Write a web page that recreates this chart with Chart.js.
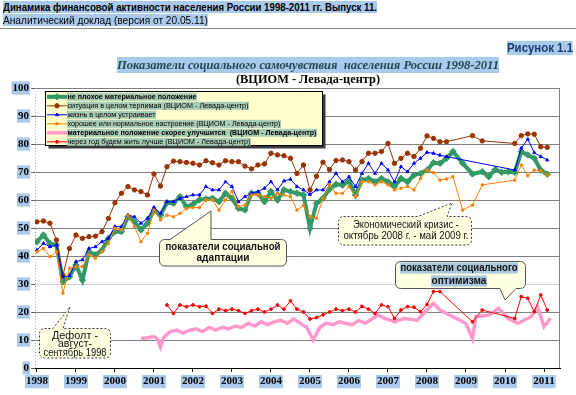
<!DOCTYPE html>
<html><head><meta charset="utf-8">
<script src="https://cdn.jsdelivr.net/npm/chart.js"></script>
<style>
body{margin:0;background:#fff;}
#wrap{position:relative;width:576px;height:395px;overflow:hidden;background:#fff;}
#c{position:absolute;left:0;top:0;}
.t{position:absolute;white-space:pre;transform-origin:0 0;line-height:1.1;}
.hl{background:#a9caec;}
</style></head><body>
<div id="wrap">
<canvas id="c" width="576" height="395"></canvas>
<div class="t hl" style="top:1px;font:bold 11px 'Liberation Sans';color:#000" data-x="3" data-w="374">Динамика финансовой активности населения России 1998-2011 гг. Выпуск 11.</div>
<div class="t hl" style="top:14px;font:11px 'Liberation Sans';color:#000" data-x="3" data-w="205">Аналитический доклад (версия от 20.05.11)</div>
<div style="position:absolute;left:0;top:28px;width:576px;height:1px;background:#8a8a8a"></div>
<div class="t hl" style="top:41px;font:bold 12px 'Liberation Sans';color:#1f3a6e" data-x="507" data-w="66">Рисунок 1.1</div>
<div class="t hl" style="top:57px;font:italic bold 13px 'Liberation Serif';color:#1e4652" data-x="117" data-w="382">Показатели социального самочувствия  населения России 1998-2011</div>
<div class="t" style="top:71px;font:bold 13px 'Liberation Serif';color:#000" data-x="236" data-w="144">(ВЦИОМ - Левада-центр)</div>
</div>
<script>
// ---------- data ----------
const yearTicks = [1998,1999,2000,2001,2002,2003,2004,2005,2006,2007,2008,2009,2010,2011];

const surveyDates = [
 '1998-01','1998-03','1998-05','1998-07','1998-09','1998-11',
 '1999-01','1999-03','1999-05','1999-07','1999-09','1999-11',
 '2000-01','2000-03','2000-05','2000-07','2000-09','2000-11',
 '2001-01','2001-03','2001-05','2001-07','2001-09','2001-11',
 '2002-01','2002-03','2002-05','2002-07','2002-09','2002-11',
 '2003-01','2003-03','2003-05','2003-07','2003-09','2003-11',
 '2004-01','2004-03','2004-05','2004-07','2004-09','2004-11',
 '2005-01','2005-03','2005-05','2005-07','2005-09','2005-11',
 '2006-01','2006-03','2006-05','2006-07','2006-09','2006-11',
 '2007-01','2007-03','2007-05','2007-07','2007-09','2007-11',
 '2008-01','2008-03','2008-05','2008-07'];

const greenLateDates  = ['2008-09','2008-12','2009-03','2009-06','2009-08','2009-10','2009-12','2010-02','2010-04','2010-06','2010-08','2010-10','2010-12','2011-02'];
const brownLateDates  = ['2009-03','2009-06','2010-04','2010-06','2010-08','2010-10','2010-12','2011-02'];
const blueLateDates   = ['2010-04','2010-06','2010-08','2010-10','2010-12','2011-02'];
const orangeLateDates = ['2008-09','2008-12','2009-03','2009-06','2010-04','2010-06','2010-08','2010-10','2010-12','2011-02'];

// не плохое материальное положение
const greenValues = [
 45.1,47.5,44.5,43.9,30.8,32.6, 36.8,31.4,41.5,40.4,42.1,46.3,
 48.7,48.7,54.0,52.3,49.3,51.7, 56.4,54.6,59.0,58.8,61.2,57.6,
 58.5,60.1,60.4,60.6,59.4,62.4, 60.6,57.0,56.4,62.4,62.4,59.4,
 63.0,60.0,63.6,63.0,62.4,61.8, 49.9,58.8,60.6,63.9,65.6,65.3,
 66.8,61.8,67.1,67.7,66.5,67.7, 66.5,64.8,67.7,66.5,68.9,69.5,
 70.7,73.3,73.1,74.9,
 77.3,73.1,69.3,70.1,68.3,70.9,69.9,70.1,69.9,77.3,76.1,74.9,70.7,69.2];

// ситуация в целом терпимая
const brownValues = [
 52.2,52.5,51.7,45.7,33.2,42.7, 47.5,46.3,46.9,47.1,48.7,53.4,
 59.0,62.4,64.8,63.6,63.0,61.8, 69.3,65.0,71.9,73.9,73.7,73.4,
 73.1,72.5,74.0,73.3,72.5,74.0, 73.7,73.7,72.1,71.1,72.5,72.9,
 76.7,76.1,75.8,74.9,69.5,72.5, 63.6,68.5,73.5,70.9,74.1,74.3,
 73.7,70.7,73.7,76.7,76.7,77.3, 80.2,73.1,74.9,76.7,75.5,78.5,
 82.9,82.0,80.8,80.8,
 83.0,81.1,80.2,83.0,83.6,83.5,79.0,78.8];

// жизнь в целом устраивает
const blueValues = [
 42.1,44.5,43.3,43.9,32.6,32.9, 38.0,38.6,42.7,43.3,45.1,46.3,
 50.5,50.5,54.6,54.0,51.7,53.5, 57.4,55.2,59.4,59.4,60.6,61.2,
 61.8,61.8,64.8,63.6,63.6,66.5, 64.8,59.4,61.2,62.4,63.0,64.2,
 66.5,63.6,66.8,67.4,64.8,63.6, 62.0,63.6,63.6,66.5,69.5,66.5,
 68.3,64.8,69.5,73.1,69.5,73.1, 70.7,66.5,71.9,70.1,73.1,74.9,
 77.0,76.7,76.0,75.5,
 70.7,78.5,81.7,76.9,75.5,74.3];

// хорошее или нормальное настроение
const orangeValues = [
 41.5,42.7,39.8,41.5,26.7,35.6, 36.2,36.2,40.4,39.2,41.5,44.5,
 49.9,49.3,54.6,50.5,45.1,48.1, 56.4,52.9,54.6,54.0,55.2,57.0,
 57.3,57.3,60.0,60.0,56.4,60.0, 63.0,57.6,58.2,61.8,61.8,61.2,
 60.6,62.4,61.8,61.2,56.4,58.0, 54.0,53.5,60.5,65.4,62.4,62.4,
 64.8,61.2,66.5,66.5,65.4,66.5, 65.4,63.6,64.2,64.8,63.6,67.7,
 70.7,69.8,67.1,67.5,
 68.3,56.4,58.2,65.4,67.1,72.5,68.7,70.7,70.5,68.9];

// материальное положение скорее улучшится
const pinkDates = ['2000-09','2000-11','2001-01','2001-02','2001-03','2001-04','2001-06','2001-08','2001-10','2001-12',
 '2002-02','2002-04','2002-06','2002-08','2002-10','2002-12','2003-02','2003-04','2003-06','2003-08','2003-10','2003-12',
 '2004-02','2004-04','2004-06','2004-08','2004-10','2004-12','2005-02','2005-04','2005-06','2005-08','2005-10','2005-12',
 '2006-02','2006-04','2006-06','2006-08','2006-10','2006-12','2007-03','2007-06','2007-10','2008-01','2008-03','2008-05',
 '2008-10','2009-01','2009-03','2009-04','2009-08','2009-11','2010-02','2010-05','2010-09','2010-11','2011-01','2011-03'];
const pinkValues = [10.5,10.8,11.2,10.5,7.5,11.0,13.0,13.5,12.5,13.5,
 14.0,13.0,14.5,13.5,14.5,14.0,15.0,14.5,16.0,15.0,16.5,15.5,
 16.5,17.0,16.0,17.5,16.0,14.5,10.0,14.5,16.0,15.5,16.5,16.0,
 15.5,17.0,16.0,17.5,18.9,17.7,16.5,17.7,17.1,20.7,23.1,20.7,
 17.7,15.9,10.5,18.3,18.9,21.3,17.7,16.0,18.3,21.9,14.8,17.7];

// через год будем жить лучше
const redDates = ['2001-05','2001-07','2001-09','2001-11',
 '2002-01','2002-03','2002-05','2002-07','2002-09','2002-11',
 '2003-01','2003-03','2003-05','2003-07','2003-09','2003-11',
 '2004-01','2004-03','2004-05','2004-07','2004-09','2004-11',
 '2005-01','2005-03','2005-05','2005-07','2005-09','2005-11',
 '2006-01','2006-03','2006-05','2006-07','2006-09','2006-11',
 '2007-01','2007-03','2007-05','2007-07','2007-09','2007-11',
 '2008-01','2008-03','2008-05',
 '2009-03','2009-06','2010-04','2010-06','2010-08','2010-10','2010-12','2011-02'];
const redValues = [22.5,19.5,22.5,21.9,
 22.5,21.9,22.1,19.5,21.0,20.5, 21.0,20.5,19.5,20.5,21.0,20.0,
 21.0,22.5,21.0,24.0,21.0,20.0, 17.5,18.0,19.0,20.0,21.0,20.5,
 21.0,20.0,22.0,21.0,19.5,22.5, 21.9,17.7,20.7,21.9,21.7,20.1,
 22.7,27.3,27.3,
 16.5,20.7,17.7,25.5,24.9,20.1,26.1,20.7];

const seriesNames = [
 'не плохое материальное положение',
 'ситуация в целом терпимая (ВЦИОМ - Левада-центр)',
 'жизнь в целом устраивает',
 'хорошее или нормальное настроение (ВЦИОМ - Левада-центр)',
 'материальное положение скорее улучшится  (ВЦИОМ - Левада-центр)',
 'через год будем жить лучше (ВЦИОМ - Левада-центр)'];

// ---------- helpers ----------
const toX = s => +s.slice(0,4) + (+s.slice(5,7) - 1) / 12;
const pts = (dates, vals) => dates.map((d, i) => ({x: toX(d), y: vals[i]}));

document.querySelectorAll('[data-w]').forEach(el => {
  const w = el.getBoundingClientRect().width;
  el.style.left = el.dataset.x + 'px';
  el.style.transform = 'scaleX(' + (el.dataset.w / w) + ')';
});

function fitText(ctx, text, x, y, w, font, color, bg, align) {
  ctx.save();
  ctx.font = font;
  const m = ctx.measureText(text).width;
  const sx = w ? w / m : 1;
  const ww = m * sx;
  let left = x;
  if (align === 'center') left = x - ww / 2;
  if (align === 'right') left = x - ww;
  if (bg) { ctx.fillStyle = bg.c; ctx.fillRect(left - 0.5, y - bg.h / 2, ww + 1, bg.h); }
  ctx.translate(left, y);
  ctx.scale(sx, 1);
  ctx.fillStyle = color;
  ctx.textBaseline = 'middle';
  ctx.textAlign = 'left';
  ctx.fillText(text, 0, 0.5);
  ctx.restore();
}

function callout(ctx, o) {
  const {x, y, w, h, r} = o;
  ctx.save();
  ctx.beginPath();
  ctx.moveTo(x + r, y);
  if (o.side === 'top') { ctx.lineTo(o.b1, y); ctx.lineTo(o.tx, o.ty); ctx.lineTo(o.b2, y); }
  ctx.lineTo(x + w - r, y); ctx.arcTo(x + w, y, x + w, y + r, r);
  ctx.lineTo(x + w, y + h - r); ctx.arcTo(x + w, y + h, x + w - r, y + h, r);
  if (o.side === 'bottom') { ctx.lineTo(o.b2, y + h); ctx.lineTo(o.tx, o.ty); ctx.lineTo(o.b1, y + h); }
  ctx.lineTo(x + r, y + h); ctx.arcTo(x, y + h, x, y + h - r, r);
  ctx.lineTo(x, y + r); ctx.arcTo(x, y, x + r, y, r);
  ctx.closePath();
  ctx.fillStyle = '#ffffe1';
  ctx.fill();
  ctx.setLineDash(o.dash || []);
  ctx.strokeStyle = o.stroke || '#444';
  ctx.lineWidth = 1;
  ctx.stroke();
  ctx.restore();
  o.lines.forEach(L => fitText(ctx, L.t, o.cx, L.y, L.w, o.font, '#111', o.bg ? {h: 11, c: o.bg} : null, 'center'));
}

const HL_LEG = '#a8cdb6';

const overlay = {
  id: 'overlay',
  beforeDatasetsDraw(chart) {
    const {ctx, chartArea: a} = chart;
    ctx.save();
    ctx.lineWidth = 1;
    ctx.strokeStyle = '#a8a8a8';
    ctx.setLineDash([1, 2]);
    ctx.beginPath(); ctx.moveTo(a.left + 0.5, a.top); ctx.lineTo(a.left + 0.5, a.bottom); ctx.stroke();
    ctx.setLineDash([]);
    ctx.strokeStyle = '#808080';
    ctx.beginPath(); ctx.moveTo(a.right - 0.5, a.top); ctx.lineTo(a.right - 0.5, a.bottom); ctx.stroke();
    ctx.restore();
  },
  afterDatasetsDraw(chart) {
    const ctx = chart.ctx;
    const f = 'px "Liberation Sans", Arial, sans-serif';
    callout(ctx, {x: 39.5, y: 328.5, w: 71, h: 29.5, r: 5, side: 'top', b1: 53, b2: 63, tx: 70, ty: 307,
      dash: [2, 2], stroke: '#333', cx: 75, font: '10' + f,
      lines: [{t: 'Дефолт -', y: 335.5, w: 46}, {t: 'август-', y: 344, w: 34}, {t: 'сентябрь 1998', y: 352.5, w: 63}]});
    callout(ctx, {x: 159.5, y: 239.5, w: 127, h: 26.5, r: 5, side: 'top', b1: 170, b2: 211, tx: 211, ty: 211,
      stroke: '#555', cx: 223, font: 'bold 10' + f,
      lines: [{t: 'показатели социальной', y: 246.5, w: 115}, {t: 'адаптации', y: 257.5, w: 53}]});
    callout(ctx, {x: 338.5, y: 216.5, w: 133, h: 28.5, r: 5, side: 'top', b1: 418, b2: 447, tx: 452, ty: 203,
      dash: [2, 2], stroke: '#333', cx: 406, font: '10' + f,
      lines: [{t: 'Экономический кризис -', y: 224.5, w: 106}, {t: 'октябрь 2008 г. - май 2009 г.', y: 235.5, w: 125}]});
    callout(ctx, {x: 395.5, y: 261.5, w: 130, h: 27, r: 5, side: 'bottom', b1: 500, b2: 516, tx: 505, ty: 300,
      stroke: '#555', cx: 459, font: 'bold 10' + f, bg: '#a8c8de',
      lines: [{t: 'показатели социального', y: 268, w: 117}, {t: 'оптимизма', y: 281, w: 55}]});

    // legend
    const L = {x: 45.5, y: 91.5, w: 277, h: 54};
    ctx.save();
    ctx.fillStyle = '#3a3a3a';
    ctx.fillRect(L.x + 3, L.y + 3, L.w, L.h);
    ctx.fillStyle = '#ffffcc';
    ctx.fillRect(L.x, L.y, L.w, L.h);
    ctx.strokeStyle = '#000'; ctx.lineWidth = 1;
    ctx.strokeRect(L.x, L.y, L.w, L.h);
    ctx.restore();
    const widths = [129, 181, 88, 213, 249, 183];
    const bold = [true, false, false, false, true, false];
    chart.data.datasets.forEach((ds, i) => {
      const yy = 96.8 + i * 9;
      ctx.save();
      ctx.strokeStyle = ds.borderColor;
      ctx.lineWidth = ds.borderWidth;
      ctx.beginPath(); ctx.moveTo(47, yy); ctx.lineTo(67, yy); ctx.stroke();
      ctx.restore();
      if (ds.pointRadius > 0) {
        ctx.save();
        ctx.fillStyle = ds.borderColor; ctx.strokeStyle = ds.borderColor; ctx.lineWidth = 1;
        Chart.helpers.drawPoint(ctx, {pointStyle: ds.pointStyle, radius: ds.pointRadius, borderWidth: 1, rotation: 0}, 57, yy);
        ctx.restore();
      }
      fitText(ctx, seriesNames[i], 67.5, yy, widths[i], (bold[i] ? 'bold ' : '') + '7.5' + f, '#000', {h: 8, c: HL_LEG}, 'left');
    });
  }
};

const gridColor = c => {
  const v = c.tick && c.tick.value;
  if (v === 0) return '#000';
  if (v === 30) return '#cfcfcf';
  return '#7f7f7f';
};

const tickFont = {family: '"Liberation Serif", "Times New Roman", serif', weight: 'bold', size: 11};

new Chart(document.getElementById('c'), {
  type: 'line',
  data: {
    datasets: [
      {label: seriesNames[0], data: pts(surveyDates.concat(greenLateDates), greenValues),
       borderColor: '#339966', backgroundColor: '#339966', borderWidth: 4, pointStyle: 'rectRot', pointRadius: 3.2, pointBorderWidth: 1, order: 6},
      {label: seriesNames[1], data: pts(surveyDates.concat(brownLateDates), brownValues),
       borderColor: '#993300', backgroundColor: '#993300', borderWidth: 1, pointStyle: 'circle', pointRadius: 2.2, pointBorderWidth: 1, order: 5},
      {label: seriesNames[2], data: pts(surveyDates.concat(blueLateDates), blueValues),
       borderColor: '#0000ff', backgroundColor: '#0000ff', borderWidth: 1, pointStyle: 'triangle', pointRadius: 1.8, pointBorderWidth: 1, order: 4},
      {label: seriesNames[3], data: pts(surveyDates.concat(orangeLateDates), orangeValues),
       borderColor: '#ff8000', backgroundColor: '#ff8000', borderWidth: 1, pointStyle: 'rect', pointRadius: 1.5, pointBorderWidth: 1, order: 3},
      {label: seriesNames[4], data: pts(pinkDates, pinkValues),
       borderColor: '#ff99cc', backgroundColor: '#ff99cc', borderWidth: 3.5, pointRadius: 0, order: 2},
      {label: seriesNames[5], data: pts(redDates, redValues),
       borderColor: '#ff0000', backgroundColor: '#ff0000', borderWidth: 1, pointStyle: 'circle', pointRadius: 1.4, pointBorderWidth: 1, order: 1}
    ]
  },
  options: {
    responsive: false,
    animation: false,
    devicePixelRatio: 1,
    layout: {padding: {top: 88, right: 16, left: 0, bottom: 0}},
    plugins: {legend: {display: false}, tooltip: {enabled: false}},
    elements: {line: {tension: 0}},
    scales: {
      x: {
        type: 'linear', min: 1997.95, max: 2011.41,
        afterBuildTicks: s => { s.ticks = yearTicks.map(v => ({value: v})); },
        afterFit: s => { s.height = 27; },
        grid: {drawOnChartArea: false, drawTicks: true, tickLength: 4, color: '#000'},
        border: {display: true, color: '#000', width: 1},
        ticks: {font: tickFont, color: '#000', padding: 3, autoSkip: false, maxRotation: 0,
          callback: v => String(v), showLabelBackdrop: true, backdropColor: '#a9caec', backdropPadding: {x: 1, y: 0}}
      },
      y: {
        min: 0, max: 100,
        afterFit: s => { s.width = 35; },
        grid: {color: gridColor, tickLength: 4, drawTicks: true, tickColor: '#606060'},
        border: {display: false},
        ticks: {stepSize: 10, font: tickFont, color: '#000', padding: 2,
          showLabelBackdrop: true, backdropColor: '#a9caec', backdropPadding: {x: 1, y: 0}}
      }
    }
  },
  plugins: [overlay]
});
</script>
</body></html>
